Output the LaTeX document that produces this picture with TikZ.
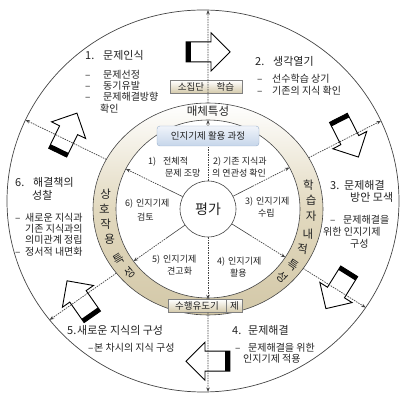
\documentclass[tikz,border=0pt]{standalone}
\usepackage{fontspec}
\setmainfont{Noto Sans CJK KR}
\usetikzlibrary{arrows.meta,calc,intersections}
\definecolor{txtc}{HTML}{222222}
\definecolor{beiged}{HTML}{D3C8A8}
\definecolor{beigem}{HTML}{E2D9BF}
\definecolor{lnc}{HTML}{444444}
\definecolor{blued}{HTML}{C6D6EA}
\definecolor{bluel}{HTML}{F0F4FA}
\definecolor{bluer}{HTML}{9AB0CC}
\newcommand{\dashitem}[1]{\makebox[#1][l]{–}}
\newcommand{\numitem}[2]{\makebox[#1][l]{#2}}
\tikzset{
  bigarrow/.pic={
    \draw[fill=white, line width=0.9pt, line join=miter, miter limit=10]
      (-22,-10) -- (3,-10) -- (3,-19) -- (22,0) -- (3,19) -- (3,10) -- (-22,10) -- cycle;
    \fill (-22,-10) rectangle (-17.5,10);
  }
}
\begin{document}
\begin{tikzpicture}[x=1pt,y=1pt,
  lbl/.style={anchor=west, inner sep=0pt, text=txtc, font=\fontsize{10}{12}\selectfont},
  hd/.style={lbl, font=\fontsize{11}{13}\selectfont},
  inn/.style={lbl, font=\fontsize{9}{11}\selectfont},
  dsh/.style={draw=lnc, line width=0.7pt, dash pattern=on 1.5pt off 1pt},
  arr/.style={-{Stealth[length=4.5pt,width=3.5pt]}},
  bandch/.style={inner sep=0pt, text=txtc, font=\fontsize{11.5}{12}\selectfont},
  beigebox/.style={draw=gray, top color=white, bottom color=beiged, minimum height=13pt, inner sep=0pt, text=txtc, font=\fontsize{9.5}{11}\selectfont}
]
\useasboundingbox (0,0) rectangle (400,-395);
\coordinate (C) at (208,-209);
\coordinate (O) at (203,-201);
% outer circle
\draw[lnc, line width=0.7pt, name path=outer] (O) ellipse [x radius=196, y radius=191];
% band
\shade[top color=white, bottom color=beiged, middle color=beigem] (C) ellipse [x radius=115, y radius=106];
\draw[lnc, line width=0.6pt, name path=bandout] (C) ellipse [x radius=115, y radius=106];
\draw[lnc, line width=0.6pt, fill=white, name path=bandin] (C) ellipse [x radius=92, y radius=89];
% intersections
\foreach \n/\a in {1/90,2/27,3/328,4/270,5/215,6/154}{
  \path[name path=ray] (C) -- ++(\a:260);
  \path[name intersections={of=outer and ray, by={ex\n}}];
  \path[name intersections={of=bandout and ray, by={so\n}}];
  \path[name intersections={of=bandin and ray, by={ri\n}}];
}
% centre
\node[draw=lnc, line width=0.6pt, circle, fill=white, minimum size=56pt, inner sep=0pt, text=txtc, font=\fontsize{14}{16}\selectfont] (pg) at (C) {평가};
% spokes
\foreach \n/\a in {2/27,3/328,5/215,6/154}{
  \draw[lnc, line width=0.6pt] (pg.\a) -- ($(C)+(\a:50)$) coordinate (mid\n);
  \draw[dsh, arr] (mid\n) -- (ri\n);
}
% boxes
\node[draw=bluer, rounded corners=3pt, top color=bluel, bottom color=blued, minimum width=102pt, minimum height=20pt, inner sep=0pt, text=txtc, font=\fontsize{9.5}{11}\selectfont] (ig) at (208,-136) {인지기제 활용 과정};
\node[beigebox, minimum width=72pt] (sj) at (206,-87) {소집단\hspace{1.3em}학습};
\node[beigebox, minimum width=58pt] (sh1) at (197,-306) {수행유도기};
\node[beigebox, minimum width=16pt, anchor=west] (sh2) at (sh1.east) {제};
% big arrows
\foreach \n/\a/\f in {1/90/0.55,2/27/0.55,3/328/0.55,4/270/0.6,5/215/0.55}
  \pic[rotate=\a-90] at ($(so\n)!\f!(ex\n)$) {bigarrow};
\pic[rotate=64] at ($(so6)!0.52!(ex6)+(3,6)$) {bigarrow};
% vertical connectors
\draw[dsh] (pg.north) -- (ig.south);
\draw[dsh, arr] (ig.north) -- (ri1);
\draw[dsh, arr] (so1) -- (ex1);
\draw[dsh, arr] (pg.south) -- (pg.south |- sh1.north);
\draw[dsh, arr] (pg.south |- sh1.south) -- (ex4);
\foreach \n in {2,3,5,6} \draw[dsh, arr] (so\n) -- (ex\n);
% band texts
\node[bandch] (mc) at (208,-111) {매체특성};
\foreach \ch/\a/\r [count=\k] in {학/14/0, 습/5/0, 자/-4/0, 내/-15/0, 적/-24/-8, 특/-35/-35, 성/-44/-44, 상/171/0, 호/180/0, 작/189/0, 용/198/0, 특/211/31, 성/221/41}
  \node[bandch, rotate=\r] (bch\k) at ($(C)+({103.5*cos(\a)},{97.5*sin(\a)})$) {\ch};
% block 1
\node[hd] (t1) at (85,-55) {\numitem{18pt}{1.}문제인식};
\node[lbl] (t1a) at (85,-75) {\dashitem{18pt}문제선정};
\node[lbl] (t1b) at (85,-86) {\dashitem{18pt}동기유발};
\node[lbl] (t1c) at (85,-97) {\dashitem{18pt}문제해결방향};
\node[lbl] (t1d) at (100,-109) {확인};
% block 2
\node[hd] (t2) at (255,-61) {\numitem{18pt}{2.}생각열기};
\node[lbl] (t2a) at (257,-79) {\dashitem{15pt}선수학습 상기};
\node[lbl] (t2b) at (257,-91) {\dashitem{15pt}기존의 지식 확인};
% block 3
\node[hd] (t3) at (330,-185) {\numitem{14pt}{3.}문제해결};
\node[hd] (t3b) at (350,-197) {방안 모색};
\node[lbl] (t3c) at (330,-220) {\dashitem{13pt}문제해결을};
\node[lbl] (t3d) at (323,-232) {위한 인지기제};
\node[lbl] (t3e) at (350,-244) {구성};
% block 4
\node[hd] (t4) at (232,-330) {\numitem{16pt}{4.}문제해결};
\node[lbl] (t4a) at (235,-348) {\dashitem{13pt}문제해결을 위한};
\node[lbl] (t4b) at (243,-359) {인지기제 적용};
% block 5
\node[hd] (t5) at (67,-330) {\numitem{10pt}{5.}새로운 지식의 구성};
\node[lbl] (t5a) at (88,-348) {\dashitem{6pt}본 차시의 지식 구성};
% block 6
\node[hd] (t6) at (15,-182) {\numitem{18pt}{6.}해결책의};
\node[hd] (t6b) at (32,-195) {성찰};
\node[lbl] (t6c) at (15,-218) {\dashitem{10pt}새로운 지식과};
\node[lbl] (t6d) at (25,-229) {기존 지식과의};
\node[lbl] (t6e) at (25,-240) {의미관계 정립};
\node[lbl] (t6f) at (15,-252) {\dashitem{10pt}정서적 내면화};
% inner sectors
\node[inn] (c1a) at (148,-162) {\numitem{15pt}{1)}전체적};
\node[inn] (c1b) at (165,-173) {문제 조망};
\node[inn] (c2a) at (213,-162) {\numitem{10pt}{2)}기존 지식과};
\node[inn] (c2b) at (212,-173) {의 연관성 확인};
\node[inn] (c3a) at (245,-202) {\numitem{11pt}{3)}인지기제};
\node[inn] (c3b) at (258,-213) {수립};
\node[inn] (c4a) at (217,-262) {\numitem{11pt}{4)}인지기제};
\node[inn] (c4b) at (230,-273) {활용};
\node[inn] (c5a) at (152,-260) {\numitem{11pt}{5)}인지기제};
\node[inn] (c5b) at (167,-271) {견고화};
\node[inn] (c6a) at (125,-204) {\numitem{11pt}{6)}인지기제};
\node[inn] (c6b) at (137,-217) {검토};
\end{tikzpicture}
\end{document}
